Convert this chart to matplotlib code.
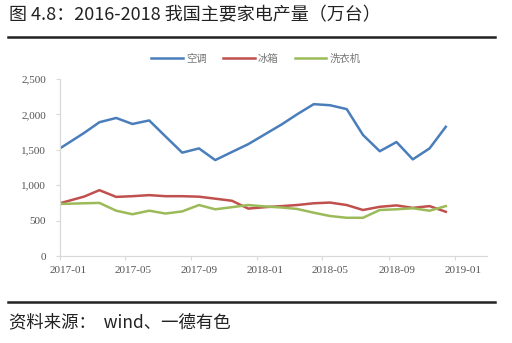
import matplotlib

matplotlib.use("Agg")
import matplotlib.pyplot as plt
import matplotlib.dates as mdates
import matplotlib.transforms as mtransforms
from matplotlib.lines import Line2D
from matplotlib.ticker import FuncFormatter
import pandas as pd

plt.rcParams["font.family"] = ["Noto Sans CJK SC", "DejaVu Sans"]

# monthly output, 万台 (first point sits on the axis origin)
months = ["2017-01-01", "2017-02-15", "2017-03-15", "2017-04-15", "2017-05-15", "2017-06-15",
          "2017-07-15", "2017-08-15", "2017-09-15", "2017-10-15", "2017-11-15", "2017-12-15",
          "2018-01-15", "2018-02-15", "2018-03-15", "2018-04-15", "2018-05-15", "2018-06-15",
          "2018-07-15", "2018-08-15", "2018-09-15", "2018-10-15", "2018-11-15", "2018-12-15"]
aircon = [1520, 1740, 1890, 1950, 1865, 1915, 1690, 1460, 1520, 1355, 1470, 1580,
          1720, 1860, 2000, 2145, 2130, 2075, 1710, 1480, 1610, 1365, 1520, 1825]
fridge = [745, 840, 930, 835, 845, 860, 845, 845, 838, 810, 780, 670,
          690, 705, 720, 745, 755, 720, 650, 695, 715, 680, 705, 625]
washer = [735, 745, 750, 640, 590, 640, 600, 630, 720, 660, 690, 720,
          700, 685, 665, 612, 565, 540, 540, 650, 660, 675, 640, 705]
series_names = ["空调", "冰箱", "洗衣机"]
colors = ["#4a7ebb", "#c0504d", "#9bbb59"]
yticks = [0, 500, 1000, 1500, 2000, 2500]
xticks = ["2017-01-01", "2017-05-01", "2017-09-01", "2018-01-01",
          "2018-05-01", "2018-09-01", "2019-01-01"]

dates = pd.to_datetime(months)

fig = plt.figure(figsize=(5.12, 3.43), dpi=100)
ax = fig.add_axes([0.117, 0.2536, 0.834, 0.516])

for vals, name, c in zip([aircon, fridge, washer], series_names, colors):
    ax.plot(dates, vals, color=c, lw=1.8, label=name)

ax.set_xlim(pd.Timestamp("2017-01-01"), pd.Timestamp("2019-03-01"))
ax.set_ylim(0, 2500)
ax.set_yticks(yticks)
ax.yaxis.set_major_formatter(FuncFormatter(lambda v, _: f"{int(v):,}"))
ax.set_xticks(pd.to_datetime(xticks))
ax.xaxis.set_major_formatter(mdates.DateFormatter("%Y-%m"))

for s in ["top", "right"]:
    ax.spines[s].set_visible(False)
for s in ["left", "bottom"]:
    ax.spines[s].set_color("#d9d9d9")
    ax.spines[s].set_linewidth(0.9)
ax.tick_params(axis="both", colors="#d9d9d9", length=3, width=0.8)
ax.tick_params(axis="y", pad=7, labelsize=8, labelcolor="#555555")
ax.tick_params(axis="x", pad=4, labelsize=8, labelcolor="#555555")
for lab in ax.get_yticklabels() + ax.get_xticklabels():
    lab.set_family(["Liberation Serif", "DejaVu Serif"])
# x labels sit a little to the right of their ticks
shift = mtransforms.ScaledTranslation(8 / 100, 0, fig.dpi_scale_trans)
for lab in ax.get_xticklabels():
    lab.set_transform(lab.get_transform() + shift)

leg = ax.legend(loc="center", bbox_to_anchor=(0.5, 0.828), bbox_transform=fig.transFigure,
                ncol=3, frameon=False, fontsize=7.5, handlelength=3.0,
                columnspacing=1.6, handletextpad=0.3)
for t in leg.get_texts():
    t.set_color("#777777")

fig.text(0.018, 0.955, "图 4.8：2016-2018 我国主要家电产量（万台）", fontsize=13,
         va="center", ha="left", color="#222222")
fig.add_artist(Line2D([0.016, 0.967], [0.892, 0.892], color="#222222", lw=1.8))
fig.add_artist(Line2D([0.016, 0.967], [0.12, 0.12], color="#222222", lw=1.8))
fig.text(0.018, 0.06, "资料来源：  wind、一德有色", fontsize=12.5,
         va="center", ha="left", color="#222222")

fig.savefig("out.png", dpi=100)
